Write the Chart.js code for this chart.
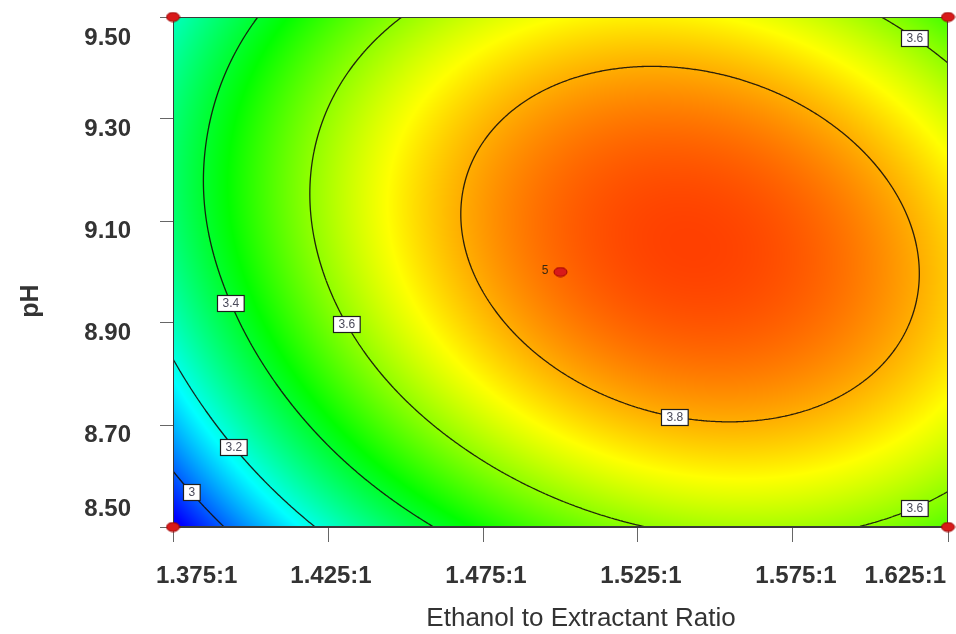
<!DOCTYPE html>
<html>
<head>
<meta charset="utf-8">
<script src="https://cdn.jsdelivr.net/npm/chart.js@4.4.1/dist/chart.umd.min.js"></script>
<style>
  html, body { margin: 0; padding: 0; background: #ffffff; }
  canvas { display: block; }
</style>
</head>
<body>
<canvas id="chart" width="956" height="634"></canvas>
<script>
// Factor levels of the prediction grid
const ratioLevels = [1.375, 1.425, 1.475, 1.525, 1.575, 1.625];
const phLevels = [8.50, 8.70, 8.90, 9.10, 9.30, 9.50];

// Predicted response at each grid node: one row per pH level (8.50 up to 9.50),
// columns follow ratioLevels
const predicted = [
  [2.870, 3.225, 3.464, 3.596, 3.621, 3.539],
  [3.092, 3.436, 3.660, 3.777, 3.787, 3.689],
  [3.246, 3.570, 3.779, 3.881, 3.875, 3.762],
  [3.326, 3.627, 3.821, 3.907, 3.886, 3.758],
  [3.321, 3.607, 3.785, 3.856, 3.820, 3.677],
  [3.239, 3.509, 3.672, 3.728, 3.677, 3.519]
];

// Contour levels drawn over the surface
const contourLevels = [3.0, 3.2, 3.4, 3.6, 3.8];

// Design runs (factorial corners and centre point with its replicate count)
const runRatio = [1.375, 1.375, 1.625, 1.625, 1.5];
const runPH = [8.50, 9.50, 8.50, 9.50, 9.00];
const runCount = [1, 1, 1, 1, 5];

// Where each contour gets its value tag (snapped onto the nearest part of that contour)
const tagSpots = [
  { level: 3.0, ratio: 1.3827, ph: 8.578 },
  { level: 3.2, ratio: 1.3966, ph: 8.667 },
  { level: 3.4, ratio: 1.3956, ph: 8.945 },
  { level: 3.6, ratio: 1.4331, ph: 8.906 },
  { level: 3.8, ratio: 1.5376, ph: 8.733 },
  { level: 3.6, ratio: 1.6153, ph: 9.471 },
  { level: 3.6, ratio: 1.6127, ph: 8.557 }
];

// Colour ramp: blue -> cyan -> green -> yellow -> red
const rampValues = [2.90, 3.17, 3.45, 3.715, 3.98];
const rampColors = [[0, 0, 255], [0, 255, 255], [0, 255, 0], [255, 255, 0], [255, 0, 0]];

const FONT = '"Liberation Sans", Arial, Helvetica, sans-serif';

// ---- smooth surface through the grid (bicubic Catmull-Rom) ----
function ghostPad(arr) {
  const n = arr.length;
  return [3 * arr[0] - 3 * arr[1] + arr[2], ...arr, 3 * arr[n - 1] - 3 * arr[n - 2] + arr[n - 3]];
}
const paddedGrid = (() => {
  const rows = predicted.map(ghostPad);
  const n = rows.length;
  const below = rows[0].map((_, i) => 3 * rows[0][i] - 3 * rows[1][i] + rows[2][i]);
  const above = rows[0].map((_, i) => 3 * rows[n - 1][i] - 3 * rows[n - 2][i] + rows[n - 3][i]);
  return [below, ...rows, above];
})();

function catmull(p0, p1, p2, p3, t) {
  return 0.5 * (2 * p1 + (-p0 + p2) * t + (2 * p0 - 5 * p1 + 4 * p2 - p3) * t * t +
    (-p0 + 3 * p1 - 3 * p2 + p3) * t * t * t);
}

function surface(ratio, ph) {
  const gx = (ratio - ratioLevels[0]) / (ratioLevels[1] - ratioLevels[0]);
  const gy = (ph - phLevels[0]) / (phLevels[1] - phLevels[0]);
  const i = Math.min(ratioLevels.length - 2, Math.max(0, Math.floor(gx)));
  const j = Math.min(phLevels.length - 2, Math.max(0, Math.floor(gy)));
  const tx = gx - i, ty = gy - j;
  const col = [];
  for (let k = 0; k < 4; k++) {
    const r = paddedGrid[j + k];
    col.push(catmull(r[i], r[i + 1], r[i + 2], r[i + 3], tx));
  }
  return catmull(col[0], col[1], col[2], col[3], ty);
}

function rampColor(v) {
  if (v <= rampValues[0]) return rampColors[0];
  const last = rampValues.length - 1;
  if (v >= rampValues[last]) return rampColors[last];
  let k = 0;
  while (v > rampValues[k + 1]) k++;
  const t = (v - rampValues[k]) / (rampValues[k + 1] - rampValues[k]);
  const a = rampColors[k], b = rampColors[k + 1];
  return [a[0] + (b[0] - a[0]) * t, a[1] + (b[1] - a[1]) * t, a[2] + (b[2] - a[2]) * t];
}

// Marching squares on a sampled field (pixel coordinates)
function contourSegments(field, cols, rows, xs, ys, level) {
  const segs = [];
  for (let r = 0; r < rows - 1; r++) {
    for (let c = 0; c < cols - 1; c++) {
      const v0 = field[r * cols + c], v1 = field[r * cols + c + 1];
      const v2 = field[(r + 1) * cols + c + 1], v3 = field[(r + 1) * cols + c];
      const x0 = xs[c], x1 = xs[c + 1], y0 = ys[r], y1 = ys[r + 1];
      const pts = [];
      const cut = (va, vb, xa, ya, xb, yb) => {
        const t = (level - va) / (vb - va);
        return [xa + (xb - xa) * t, ya + (yb - ya) * t];
      };
      if ((v0 < level) !== (v1 < level)) pts.push(cut(v0, v1, x0, y0, x1, y0));
      if ((v1 < level) !== (v2 < level)) pts.push(cut(v1, v2, x1, y0, x1, y1));
      if ((v2 < level) !== (v3 < level)) pts.push(cut(v2, v3, x1, y1, x0, y1));
      if ((v3 < level) !== (v0 < level)) pts.push(cut(v3, v0, x0, y1, x0, y0));
      if (pts.length === 2) segs.push(pts);
      else if (pts.length === 4) { segs.push([pts[0], pts[1]]); segs.push([pts[2], pts[3]]); }
    }
  }
  return segs;
}

const surfacePlugin = {
  id: 'responseSurface',
  beforeDatasetsDraw(chart) {
    const { ctx, chartArea: a, scales: { x, y } } = chart;
    const w = Math.round(a.right - a.left), h = Math.round(a.bottom - a.top);

    // filled colour surface
    const img = ctx.createImageData(w, h);
    const ratioAt = [];
    for (let px = 0; px < w; px++) ratioAt.push(x.getValueForPixel(a.left + px + 0.5));
    for (let py = 0; py < h; py++) {
      const ph = y.getValueForPixel(a.top + py + 0.5);
      for (let px = 0; px < w; px++) {
        const col = rampColor(surface(ratioAt[px], ph));
        const o = (py * w + px) * 4;
        img.data[o] = col[0]; img.data[o + 1] = col[1]; img.data[o + 2] = col[2]; img.data[o + 3] = 255;
      }
    }
    ctx.putImageData(img, Math.round(a.left), Math.round(a.top));

    // contour lines
    const step = 1.5;
    const xs = [], ys = [];
    for (let p = a.left; p < a.right; p += step) xs.push(p);
    xs.push(a.right);
    for (let p = a.top; p < a.bottom; p += step) ys.push(p);
    ys.push(a.bottom);
    const field = new Float64Array(xs.length * ys.length);
    for (let r = 0; r < ys.length; r++) {
      const ph = y.getValueForPixel(ys[r]);
      for (let c = 0; c < xs.length; c++) field[r * xs.length + c] = surface(x.getValueForPixel(xs[c]), ph);
    }
    const segsByLevel = {};
    ctx.save();
    ctx.beginPath();
    ctx.rect(a.left, a.top, w, h);
    ctx.clip();
    ctx.strokeStyle = 'rgba(20,16,10,0.9)';
    ctx.lineWidth = 1.3;
    ctx.lineJoin = 'round';
    contourLevels.forEach(level => {
      const segs = contourSegments(field, xs.length, ys.length, xs, ys, level);
      segsByLevel[level] = segs;
      ctx.beginPath();
      segs.forEach(s => { ctx.moveTo(s[0][0], s[0][1]); ctx.lineTo(s[1][0], s[1][1]); });
      ctx.stroke();
    });
    ctx.restore();

    // plot frame
    ctx.save();
    ctx.strokeStyle = '#3a3a3a';
    ctx.lineWidth = 1;
    ctx.strokeRect(a.left + 0.5, a.top + 0.5, w - 1, h - 1);
    ctx.restore();

    // contour value tags
    ctx.save();
    ctx.font = '12px ' + FONT;
    ctx.textAlign = 'center';
    ctx.textBaseline = 'middle';
    tagSpots.forEach(spot => {
      const segs = segsByLevel[spot.level] || [];
      const hx = x.getPixelForValue(spot.ratio), hy = y.getPixelForValue(spot.ph);
      let best = null, bd = Infinity;
      segs.forEach(s => {
        const mx = (s[0][0] + s[1][0]) / 2, my = (s[0][1] + s[1][1]) / 2;
        const d = (mx - hx) * (mx - hx) + (my - hy) * (my - hy);
        if (d < bd) { bd = d; best = [mx, my]; }
      });
      if (!best) return;
      const txt = String(spot.level);
      const tw = ctx.measureText(txt).width + 10, th = 16;
      const bx = Math.round(best[0] - tw / 2) + 0.5, by = Math.round(best[1] - th / 2) + 0.5;
      ctx.fillStyle = '#ffffff';
      ctx.fillRect(bx, by, tw, th);
      ctx.strokeStyle = '#1e1e1e';
      ctx.lineWidth = 1.2;
      ctx.strokeRect(bx, by, tw, th);
      ctx.fillStyle = '#4a4a5a';
      ctx.fillText(txt, bx + tw / 2, by + th / 2 + 0.5);
    });
    ctx.restore();
  },
  afterDatasetsDraw(chart) {
    const { ctx, scales: { x, y } } = chart;
    ctx.save();
    ctx.font = '12px ' + FONT;
    ctx.fillStyle = '#3a2a10';
    ctx.textAlign = 'right';
    ctx.textBaseline = 'middle';
    runCount.forEach((n, i) => {
      if (n > 1) ctx.fillText(String(n), x.getPixelForValue(runRatio[i]) - 12, y.getPixelForValue(runPH[i]) - 1);
    });
    ctx.restore();
  },
  afterDraw(chart) {
    const { ctx, chartArea: a, scales: { x, y } } = chart;
    ctx.save();
    ctx.fillStyle = '#333333';
    ctx.font = 'bold 24px ' + FONT;
    ctx.textBaseline = 'middle';
    // ratio tick labels
    x.ticks.forEach((t, i, arr) => {
      const px = x.getPixelForValue(t.value);
      let align = 'center', dx = 3;
      if (i === 0) { align = 'left'; dx = -17; }
      else if (i === arr.length - 1) { align = 'right'; dx = -2; }
      ctx.textAlign = align;
      ctx.fillText(t.value.toFixed(3) + ':1', px + dx, a.bottom + 49);
    });
    // pH tick labels
    ctx.textAlign = 'right';
    y.ticks.forEach((t, i, arr) => {
      const py = y.getPixelForValue(t.value);
      let dy = 10;
      if (i === 0) dy = -18;
      else if (i === arr.length - 1) dy = 21;
      ctx.fillText(t.value.toFixed(2), a.left - 42, py + dy);
    });
    // axis titles
    ctx.font = '26px ' + FONT;
    ctx.textAlign = 'center';
    ctx.fillText('Ethanol to Extractant Ratio', 581, a.bottom + 92);
    ctx.translate(31, 301);
    ctx.rotate(-Math.PI / 2);
    ctx.font = 'bold 25px ' + FONT;
    ctx.fillText('pH', 0, 0);
    ctx.restore();
  }
};

// Elliptical marker for the design runs
const marker = document.createElement('canvas');
marker.width = 15; marker.height = 11;
(() => {
  const m = marker.getContext('2d');
  m.beginPath();
  m.ellipse(7.5, 5.5, 6.5, 4.5, 0, 0, Math.PI * 2);
  m.fillStyle = '#d81a1a';
  m.fill();
  m.lineWidth = 1;
  m.strokeStyle = '#9a0000';
  m.stroke();
})();

new Chart(document.getElementById('chart'), {
  type: 'scatter',
  data: {
    datasets: [{
      label: 'Design runs',
      data: runRatio.map((r, i) => ({ x: r, y: runPH[i] })),
      pointStyle: marker,
      pointRadius: 6,
      clip: false
    }]
  },
  options: {
    responsive: false,
    animation: false,
    events: [],
    layout: { padding: { left: 0, top: 17, right: 8, bottom: 0 } },
    plugins: { legend: { display: false }, tooltip: { enabled: false } },
    scales: {
      x: {
        type: 'linear',
        min: ratioLevels[0],
        max: ratioLevels[ratioLevels.length - 1],
        afterBuildTicks: s => { s.ticks = ratioLevels.map(v => ({ value: v })); },
        afterFit: s => { s.height = 107; },
        ticks: { display: false },
        grid: { drawOnChartArea: false, drawTicks: true, tickLength: 15, color: '#666666', lineWidth: 1 },
        border: { display: true, color: '#3a3a3a' }
      },
      y: {
        type: 'linear',
        min: phLevels[0],
        max: phLevels[phLevels.length - 1],
        afterBuildTicks: s => { s.ticks = phLevels.map(v => ({ value: v })); },
        afterFit: s => { s.width = 173; },
        ticks: { display: false },
        grid: { drawOnChartArea: false, drawTicks: true, tickLength: 13, color: '#666666', lineWidth: 1 },
        border: { display: true, color: '#3a3a3a' }
      }
    }
  },
  plugins: [surfacePlugin]
});
</script>
</body>
</html>
